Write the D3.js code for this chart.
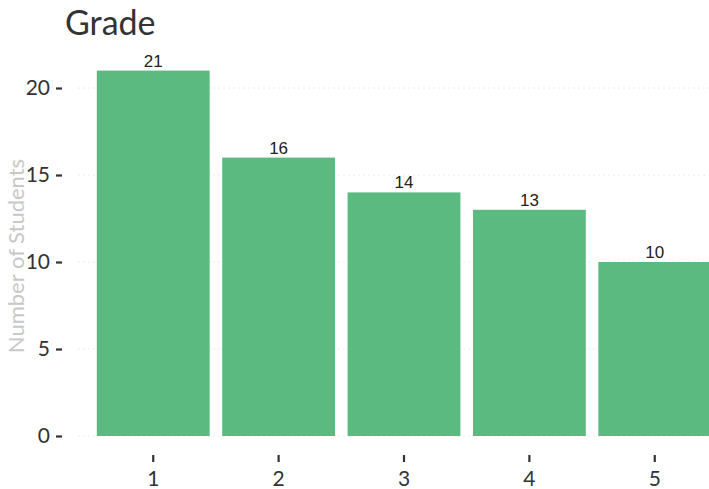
<!DOCTYPE html>
<html><head><meta charset="utf-8">
<script src="https://cdn.jsdelivr.net/npm/d3@7"></script>
<style>body{margin:0;background:#fff;} svg{display:block;}</style>
</head><body>
<script>
const categories = ["1","2","3","4","5"];
const counts = [21,16,14,13,10];
const yTicks = [0,5,10,15,20];
const titleText = "Grade";
const yTitle = "Number of Students";

const W = 709, H = 489;
const svg = d3.select("body").append("svg").attr("width",W).attr("height",H);

const x = d3.scaleBand().domain(categories).range([78,730]).paddingInner(0.1).paddingOuter(0.15);
const y = d3.scaleLinear().domain([0,20]).range([436,88]);

// faint gridlines
svg.append("g").selectAll("line").data(yTicks).join("line")
  .attr("x1",78).attr("x2",W).attr("y1",d=>y(d)).attr("y2",d=>y(d))
  .attr("stroke","#ececec").attr("stroke-width",1).attr("stroke-dasharray","2,3");

svg.append("g").selectAll("rect").data(counts).join("rect")
  .attr("x",(d,i)=>x(categories[i])).attr("width",x.bandwidth())
  .attr("y",d=>y(d)).attr("height",d=>y(0)-y(d))
  .attr("fill","#5bba7f");

svg.append("g").selectAll("text").data(counts).join("text")
  .attr("x",(d,i)=>x(categories[i])+x.bandwidth()/2).attr("y",d=>y(d)-4)
  .attr("text-anchor","middle").attr("font-family","Liberation Sans, Arial, sans-serif")
  .attr("font-size",17).attr("fill","#222").text(d=>d);

// y axis
const yAxis = d3.axisLeft(y).tickValues(yTicks).tickSize(6).tickPadding(6);
const gy = svg.append("g").attr("transform","translate(62,0)").call(yAxis);
gy.select(".domain").remove();
gy.selectAll(".tick line").attr("stroke","#333").attr("stroke-width",2.2);
gy.selectAll(".tick text").attr("font-family","Lato, sans-serif").attr("font-size",21).attr("fill","#333");

// x axis
const xAxis = d3.axisBottom(x).tickSize(7).tickPadding(9);
const gx = svg.append("g").attr("transform","translate(0,455)").call(xAxis);
gx.select(".domain").remove();
gx.selectAll(".tick line").attr("stroke","#333").attr("stroke-width",2.2);
gx.selectAll(".tick text").attr("font-family","Lato, sans-serif").attr("font-size",21).attr("fill","#333");

svg.append("text").attr("x",65).attr("y",35).attr("font-family","Lato, sans-serif")
  .attr("font-size",34).attr("fill","#333").text(titleText);

svg.append("text").attr("transform","translate(24,256) rotate(-90)")
  .attr("text-anchor","middle").attr("font-family","Lato, sans-serif")
  .attr("font-size",22).attr("fill","#c8c8c8").text(yTitle);
</script>
</body></html>
